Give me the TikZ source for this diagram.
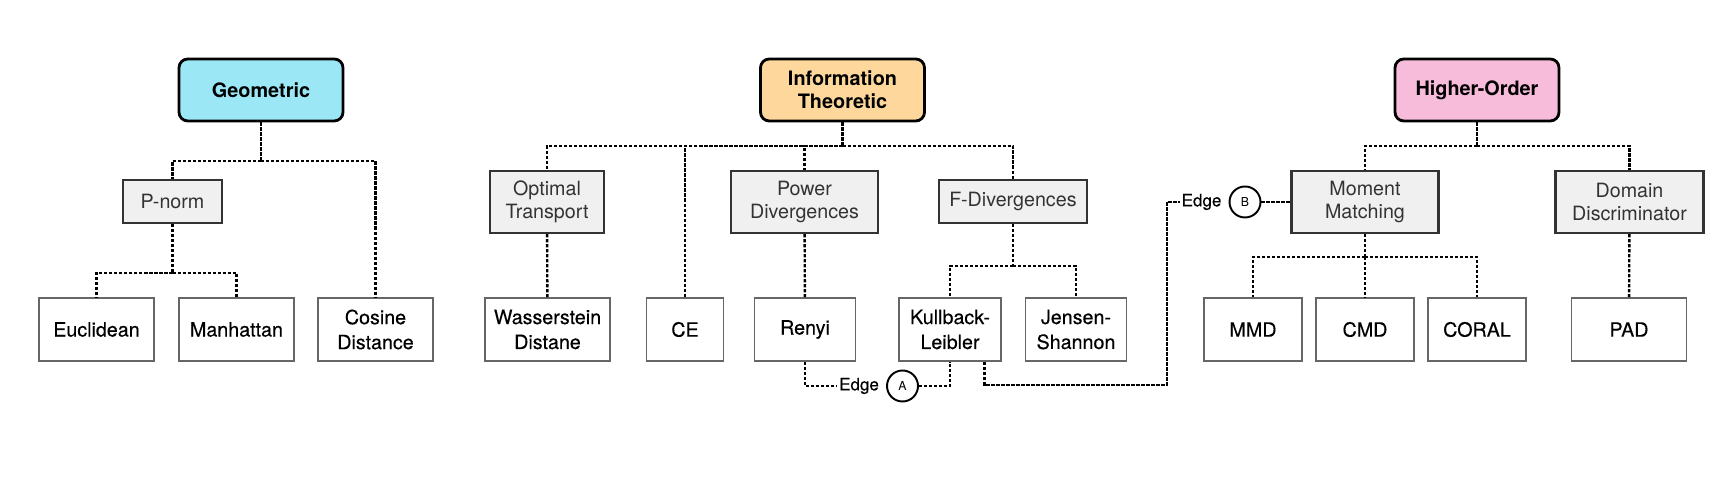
\documentclass[tikz,border=0pt]{standalone}
\usepackage{fontspec}
\setmainfont{TeX Gyre Heros}
\newfontfamily\leaffont[FakeBold=0.3]{TeX Gyre Heros}
\usepackage{xcolor}
\usepackage{tikz}
\usetikzlibrary{positioning}
\definecolor{geocyan}{HTML}{9BE7F6}
\definecolor{infoorange}{HTML}{FDD79C}
\definecolor{hopink}{HTML}{F7BCDA}
\definecolor{boxgray}{HTML}{F0F0F0}
\tikzstyle{category} = [rectangle, draw, line width=1.6pt, rounded corners=5pt,
                         minimum width=3.28cm, minimum height=1.24cm, align=center,
                         font=\fontsize{11.3}{13.2}\selectfont\bfseries]
\tikzstyle{family}   = [rectangle, draw=black!80, line width=1.2pt, fill=boxgray,
                         text=black!80, minimum height=0.86cm, align=center,
                         font=\fontsize{11.2}{13.2}\selectfont]
\tikzstyle{metric}   = [rectangle, draw=black!60, line width=0.9pt, fill=white,
                         minimum width=2.3cm, minimum height=1.26cm, align=center,
                         font=\leaffont\fontsize{11.2}{14.2}\selectfont]
\tikzstyle{link}     = [line width=1.35pt, dash pattern=on 0.065cm off 0.035cm]
\tikzstyle{tag}      = [circle, draw, line width=1.1pt, minimum size=0.62cm,
                         inner sep=0pt, font=\fontsize{7}{8}\selectfont]
\tikzstyle{tagtext}  = [inner sep=1pt, font=\leaffont\fontsize{9.7}{11}\selectfont]

\begin{document}
\begin{tikzpicture}
  \useasboundingbox (0,0) rectangle (34.54,9.62);

  \node[category, fill=geocyan] (geo) at (5.22,7.82) {Geometric};
  \node[category, fill=infoorange] (info) at (16.85,7.82) {Information\\Theoretic};
  \node[category, fill=hopink] (ho) at (29.54,7.82) {Higher-Order};

  \node[family, minimum width=1.98cm] (pnorm) at (3.45,5.59) {P-norm};
  \node[family, minimum width=2.28cm, minimum height=1.24cm] (ot) at (10.94,5.58) {Optimal\\Transport};
  \node[family, minimum width=2.94cm, minimum height=1.24cm] (pd) at (16.09,5.58) {Power\\Divergences};
  \node[family, minimum width=2.96cm] (fd) at (20.26,5.59) {F-Divergences};
  \node[family, minimum width=2.94cm, minimum height=1.24cm] (mm) at (27.3,5.58) {Moment\\Matching};
  \node[family, minimum width=2.96cm, minimum height=1.24cm] (dd) at (32.59,5.58) {Domain\\Discriminator};

  \node[metric] (eucl) at (1.93,3.03) {Euclidean};
  \node[metric] (manh) at (4.73,3.03) {Manhattan};
  \node[metric] (cos) at (7.51,3.03) {Cosine\\Distance};
  \node[metric, minimum width=2.5cm] (wass) at (10.95,3.03) {Wasserstein\\Distane};
  \node[metric, minimum width=1.54cm] (ce) at (13.7,3.03) {CE};
  \node[metric, minimum width=2.02cm] (renyi) at (16.1,3.03) {Renyi};
  \node[metric, minimum width=2.04cm] (kl) at (19.0,3.03) {Kullback-\\Leibler};
  \node[metric, minimum width=2.02cm] (js) at (21.52,3.03) {Jensen-\\Shannon};
  \node[metric, minimum width=1.96cm] (mmd) at (25.06,3.03) {MMD};
  \node[metric, minimum width=1.96cm] (cmd) at (27.3,3.03) {CMD};
  \node[metric, minimum width=1.96cm] (coral) at (29.54,3.03) {CORAL};
  \node[metric] (pad) at (32.58,3.03) {PAD};

  \coordinate (geoJ) at (5.22,6.4);
  \coordinate (pnormJ) at (3.45,4.16);
  \coordinate (infoJ) at (16.85,6.7);
  \coordinate (fdJ) at (20.26,4.3);
  \coordinate (hoJ) at (29.54,6.7);
  \coordinate (mmJ) at (27.3,4.48);

  \draw[link] (geo) -- (geoJ);
  \draw[link] (geoJ) -| (pnorm);
  \draw[link] (geoJ) -| (cos);
  \draw[link] (pnorm) -- (pnormJ);
  \draw[link] (pnormJ) -| (eucl);
  \draw[link] (pnormJ) -| (manh);

  \draw[link] (info) -- (infoJ);
  \draw[link] (infoJ) -| (ot);
  \draw[link] (infoJ) -| (ce);
  \draw[link] (infoJ) -| (pd);
  \draw[link] (infoJ) -| (fd);
  \draw[link] (ot) -- (wass);
  \draw[link] (pd) -- (renyi);
  \draw[link] (fd) -- (fdJ);
  \draw[link] (fdJ) -| (kl);
  \draw[link] (fdJ) -| (js);

  \draw[link] (ho) -- (hoJ);
  \draw[link] (hoJ) -| (mm);
  \draw[link] (hoJ) -| (dd);
  \draw[link] (mm) -- (mmJ);
  \draw[link] (mmJ) -| (mmd);
  \draw[link] (mmJ) -- (cmd);
  \draw[link] (mmJ) -| (coral);
  \draw[link] (dd) -- (pad);

  % edge tags
  \node[tag] (tagA) at (18.05,1.9) {A};
  \node[tagtext, left=0.1cm of tagA] (edgeA) {Edge};
  \draw[link] (renyi) |- (edgeA);
  \draw[link] (tagA) -| (kl);

  \node[tag] (tagB) at (24.9,5.58) {B};
  \node[tagtext, left=0.1cm of tagB] (edgeB) {Edge};
  \coordinate (bendB) at (23.34,1.92);
  \draw[link] ([xshift=0.69cm]kl.south) |- (bendB) |- (edgeB);
  \draw[link] (tagB) -- (mm);
\end{tikzpicture}
\end{document}
